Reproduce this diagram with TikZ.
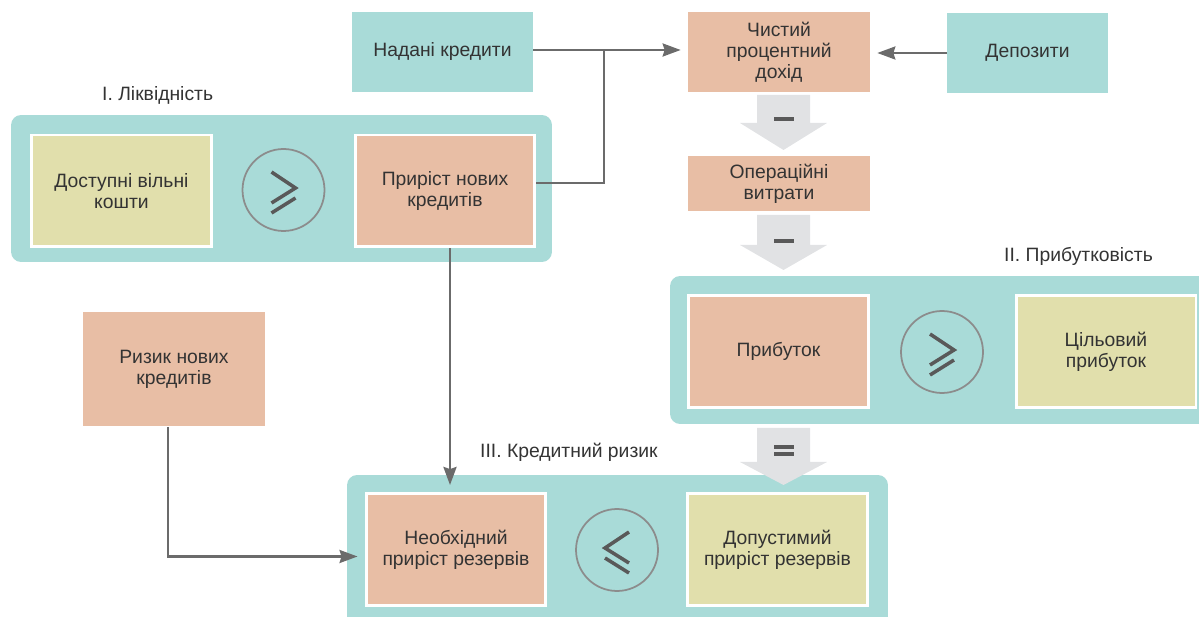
\documentclass[tikz,border=0pt]{standalone}
\usepackage{fontspec}
\setmainfont{Liberation Sans}
\usetikzlibrary{arrows.meta}

\definecolor{tealbg}{HTML}{A9DBD8}
\definecolor{salmon}{HTML}{E8BEA5}
\definecolor{khaki}{HTML}{E1DFAC}
\definecolor{arrgray}{HTML}{E1E2E4}
\definecolor{linegray}{HTML}{6B6B6B}
\definecolor{txtgray}{HTML}{333333}

\begin{document}
\begin{tikzpicture}[
x=0.02cm, y=-0.02cm,
every node/.style={font=\fontsize{11}{12}\selectfont, text=txtgray, align=center},
source/.style={rectangle, fill=tealbg, minimum width=3.62cm, minimum height=1.6cm},
cost/.style={rectangle, fill=salmon, minimum width=3.64cm, minimum height=1.6cm},
group/.style={rectangle, rounded corners=0.2cm, fill=tealbg},
inbox/.style={rectangle, draw=white, line width=1.7pt, minimum width=3.6cm, minimum height=2.24cm},
cmp/.style={circle, draw=black!45, line width=1pt, minimum size=1.64cm},
sign/.style={draw=black!65, line width=2pt},
wire/.style={draw=linegray, line width=1.4pt},
link/.style={wire, shorten >=0.14cm, -{Stealth[length=0.36cm, width=0.26cm, inset=0.04cm]}},
]
\useasboundingbox (0,0) rectangle (1199,617);

%Nodes
\node[source]  (nad)   at (442.5,52)  {Надані кредити};
\node[cost]    (chyst) at (779,52)    {Чистий\\процентний\\дохід};
\node[source, minimum width=3.22cm] (dep) at (1027.5,53) {Депозити};
\node[cost, minimum height=1.1cm]   (oper) at (779,184) {Операційні\\витрати};
\node[cost, minimum height=2.3cm]   (ryzyk) at (174,369) {Ризик нових\\кредитів};

% I
\node[group, minimum width=10.82cm, minimum height=2.94cm] (liq) at (281.5,188.5) {};
\node[inbox, fill=khaki]  (dost) at (121.5,191) {Доступні вільні\\кошти};
\node[cmp]                (ge1)  at (283.5,190) {};
\node[inbox, fill=salmon] (prir) at (445,191)   {Приріст нових\\кредитів};
\node[anchor=west]        (lbl1) at (96,95)     {I. Ліквідність};

% II
\node[group, minimum width=10.9cm, minimum height=2.96cm] (prof) at (942.5,350) {};
\node[inbox, fill=salmon] (prib) at (778.5,351.5) {Прибуток};
\node[cmp]                (ge2)  at (942,352)     {};
\node[inbox, fill=khaki]  (cil)  at (1106,351.5)  {Цільовий\\прибуток};
\node[anchor=east]        (lbl2) at (1159,256)    {II. Прибутковість};

% III
\node[group, minimum width=10.82cm, minimum height=3.1cm] (risk) at (617.5,552.5) {};
\node[inbox, fill=salmon] (neob) at (456,549.5)   {Необхідний\\приріст резервів};
\node[cmp]                (le3)  at (617,550)     {};
\node[inbox, fill=khaki]  (dop)  at (777.5,549.5) {Допустимий\\приріст резервів};
\node[anchor=west]        (lbl3) at (474,452)     {III. Кредитний ризик};

%Block arrows
\foreach \t/\h/\e in {95/123/150, 215/245/270, 428/462/485}
  \fill[arrgray] (757,\t) -- (810,\t) -- (810,\h) -- (827,\h) -- (783.5,\e) -- (740,\h) -- (757,\h) -- cycle;
\draw[sign] (774,119) -- (794,119);
\draw[sign] (774,241) -- (794,241);
\draw[sign] (774,447) -- (794,447) (774,454) -- (794,454);

%Signs
\foreach \c in {ge1, ge2}
  \draw[sign] ([shift={(-12,-18)}]\c.center) -- ++(24,16) -- ++(-24,15)
              ([shift={(-12,23)}]\c.center) -- ++(24,-15);
\draw[sign] ([shift={(12,-18)}]le3.center) -- ++(-24,16) -- ++(24,15)
            ([shift={(12,23)}]le3.center) -- ++(-24,-15);

%Lines
\coordinate (jn) at (604,50);
\draw[link] (nad.east |- jn) -- (chyst.west |- jn);
\draw[link] (dep.west) -- (chyst.east |- dep.west);
\draw[wire] ([yshift=0.16cm]prir.east) -| (jn);
\draw[link] ([xshift=0.1cm]prir.south) -- ([xshift=0.1cm]prir.south |- neob.north);
\draw[link] ([xshift=-0.12cm]ryzyk.south) |- ([yshift=-0.14cm]neob.west);
\end{tikzpicture}
\end{document}
